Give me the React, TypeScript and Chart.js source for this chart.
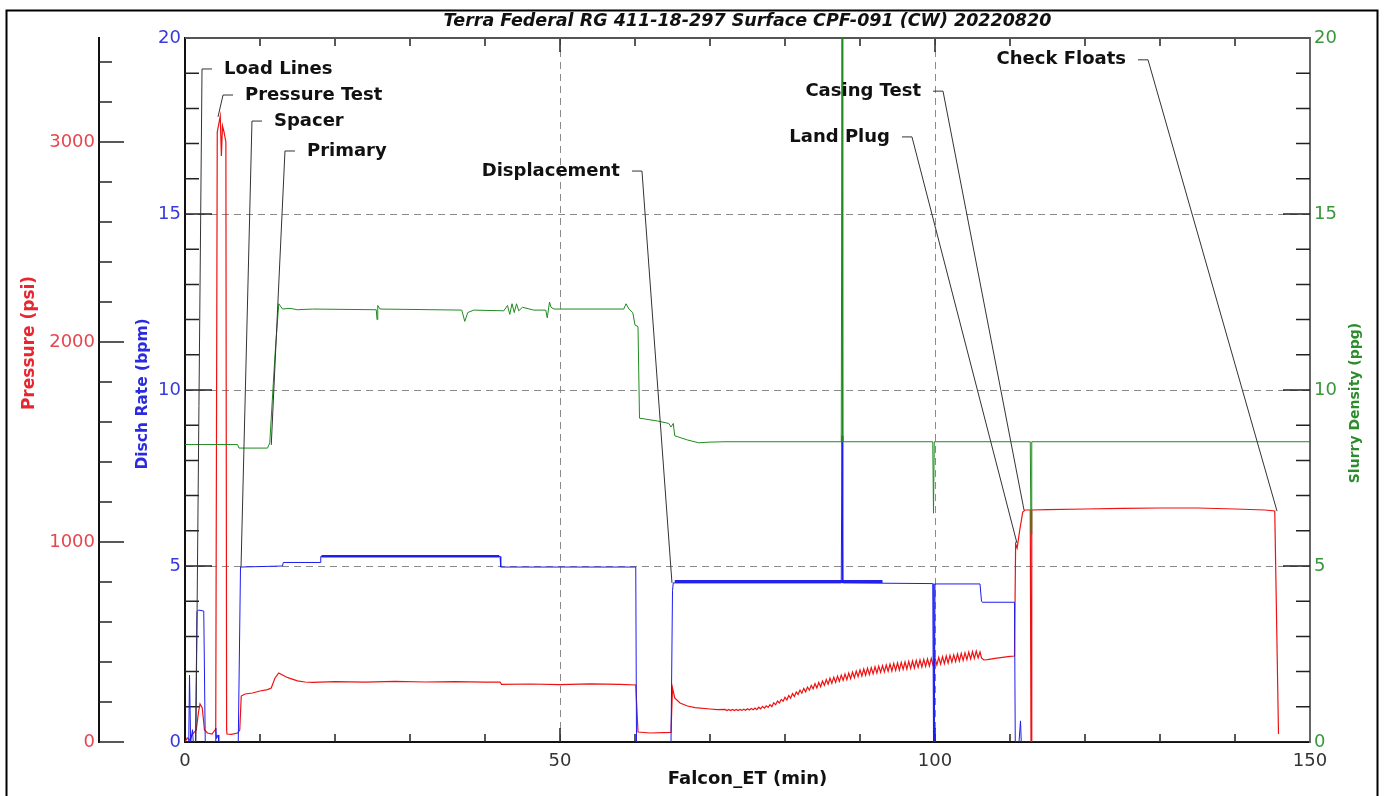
import { useEffect, useRef } from "react"
import { Chart, registerables } from "chart.js"

Chart.register(...registerables)

// [Falcon_ET (min), pressure (psi)] before the displacement ramp
const pressureStart: [number, number][] = [
    [0, 0], [0.3, 20], [0.6, 10], [1.0, 40], [1.5, 60], [1.8, 150], [2.0, 190], [2.3, 170], [2.6, 60],
    [3.0, 45], [3.6, 40], [4.0, 60], [4.1, 100], [4.3, 3050], [4.7, 3130], [4.85, 2930], [5.0, 3080],
    [5.2, 3050], [5.45, 3000], [5.55, 60], [5.6, 40], [6.2, 38], [7.0, 45], [7.3, 60], [7.5, 230],
    [8.0, 240], [9.0, 245], [10.0, 255], [11.0, 262], [11.5, 270], [12.0, 320], [12.5, 345], [13.0, 335],
    [13.5, 325], [14.0, 318], [14.5, 312], [15.0, 306], [16.0, 300], [17.0, 298], [20.0, 302], [24.0, 299],
    [28.0, 303], [32.0, 300], [36.0, 302], [40.0, 299], [42.0, 300], [42.2, 288], [46.0, 290], [50.0, 287],
    [54.0, 291], [58.0, 288], [60.1, 285], [60.4, 50], [62.0, 45], [64.8, 48], [65.0, 270], [65.3, 220],
    [66.0, 195], [67.0, 180], [68.0, 172], [70.0, 165], [71.0, 162],
]

// pressure samples every 0.25 min from 72 to 106 min (pump-stroke ripple)
const pressureRippleStart = 72
const pressureRippleStep = 0.25
const pressureRipple = [
    163, 157, 163, 157, 163, 157, 163, 157,
    163, 158, 164, 159, 166, 160, 167, 161,
    170, 162, 174, 166, 178, 169, 181, 173,
    187, 177, 196, 186, 205, 195, 213, 204,
    224, 210, 233, 219, 242, 228, 250, 237,
    260, 244, 268, 251, 275, 259, 283, 266,
    292, 270, 298, 276, 305, 283, 312, 289,
    319, 293, 324, 298, 329, 303, 334, 308,
    340, 312, 345, 317, 350, 322, 355, 327,
    361, 330, 365, 334, 369, 337, 372, 341,
    376, 345, 379, 348, 382, 351, 385, 354,
    390, 355, 393, 358, 395, 360, 398, 363,
    400, 365, 403, 368, 405, 370, 408, 373,
    410, 375, 413, 378, 415, 380, 418, 383,
    420, 386, 423, 389, 427, 392, 430, 395,
    433, 399, 436, 402, 440, 405, 443, 408,
    446, 412, 449, 415, 452, 418, 455, 421,
    450,
]

const pressureEnd: [number, number][] = [
    [106.2, 420], [106.5, 410], [107.0, 412], [108.0, 418], [109.0, 423], [110.0, 428], [110.6, 430],
    [110.75, 990], [110.95, 970], [111.3, 1060], [111.7, 1150], [112.0, 1160], [112.7, 1160], [112.8, 0],
    [112.9, 1160], [115.0, 1162], [120.0, 1165], [125.0, 1168], [130.0, 1170], [135.0, 1170], [140.0, 1165],
    [144.0, 1160], [145.3, 1155], [145.8, 40],
]

// [min, bpm]
const dischRate: [number, number][] = [
    [0, 0], [0.5, 0], [0.6, 1.9], [0.75, 0], [1.0, 0.35], [1.1, 0], [1.4, 0], [1.6, 3.7], [1.8, 3.75],
    [2.5, 3.72], [2.7, 0], [4.0, 0], [4.1, 0.4], [4.2, 0.1], [4.4, 0.2], [4.5, 0], [7.1, 0], [7.4, 4.97],
    [13.0, 5.0], [13.1, 5.1], [18.0, 5.1], [18.1, 5.27], [42.0, 5.27], [42.1, 4.97], [60.1, 4.97],
    [60.2, 0], [64.8, 0], [65.0, 4.3], [65.1, 4.52], [87.5, 4.52], [87.6, 8.7], [87.7, 4.52], [99.7, 4.5],
    [99.8, 0], [99.85, 4.5], [99.9, 0], [100.0, 4.49], [106.0, 4.49], [106.2, 4.0], [106.3, 3.97],
    [110.6, 3.97], [110.7, 0], [111.2, 0], [111.4, 0.6], [111.5, 0], [150, 0],
]

// noisy stretches of the rate trace
const dischRateNoisyA: [number, number][] = [[18.2, 5.28], [41.9, 5.28]]
const dischRateNoisyB: [number, number][] = [[65.3, 4.56], [93.0, 4.56]]

// [min, ppg]
const slurryDensity: [number, number][] = [
    [0, 8.45], [7.0, 8.45], [7.2, 8.35], [11.0, 8.35], [11.3, 8.5], [12.0, 11.0], [12.5, 12.45],
    [13.0, 12.3], [14.0, 12.32], [15.0, 12.28], [17.0, 12.3], [25.5, 12.28], [25.6, 12.0], [25.7, 12.4],
    [26.0, 12.3], [36.9, 12.27], [37.3, 11.95], [37.7, 12.2], [38.5, 12.27], [42.5, 12.25], [43.0, 12.4],
    [43.3, 12.15], [43.6, 12.45], [43.9, 12.2], [44.2, 12.45], [44.5, 12.25], [45.0, 12.35], [46.5, 12.27],
    [48.1, 12.27], [48.3, 12.05], [48.6, 12.5], [48.8, 12.35], [49.2, 12.3], [58.5, 12.3], [58.8, 12.45],
    [59.2, 12.3], [59.7, 12.2], [60.0, 11.85], [60.4, 11.8], [60.6, 9.2], [63.0, 9.12], [64.5, 9.05],
    [64.8, 8.95], [65.1, 9.05], [65.3, 8.7], [66.0, 8.65], [67.0, 8.58], [68.5, 8.5], [70.0, 8.52],
    [72.0, 8.53], [87.5, 8.53], [87.6, 20], [87.7, 8.53], [99.7, 8.53], [99.8, 6.5], [99.9, 8.53],
    [112.7, 8.53], [112.8, 5.9], [112.9, 8.53], [150, 8.53],
]

// events: name, time of event and level on the rate scale that the leader points at
const eventNames = ["Load Lines", "Pressure Test", "Spacer", "Primary", "Displacement", "Land Plug", "Casing Test", "Check Floats"]
const eventTime = [1.45, 4.4, 7.47, 11.5, 64.93, 110.93, 111.87, 145.6]
const eventLevel = [0, 17.76, 4.97, 8.44, 4.52, 5.65, 6.59, 6.56]

// where each label's leader bends (time, rate level) and which side the text sits on
const labelTime = [2.27, 5.07, 8.93, 13.33, 60.93, 96.93, 101.07, 128.4]
const labelLevel = [19.12, 18.38, 17.64, 16.79, 16.22, 17.19, 18.49, 19.38]
const labelSide = [1, 1, 1, 1, -1, -1, -1, -1]

const FONT = "'DejaVu Sans', sans-serif"

const toXY = (pts: [number, number][]) => pts.map(([x, y]) => ({ x, y }))

function pressureSeries() {
    const ripple = pressureRipple.map((y, i) => ({ x: pressureRippleStart + i * pressureRippleStep, y }))
    return [...toXY(pressureStart), ...ripple, ...toXY(pressureEnd)]
}

const decorPlugin = {
    id: "decor",
    beforeDatasetsDraw(chart: any) {
        const { ctx, chartArea, scales } = chart
        const { left, right, top, bottom } = chartArea
        ctx.save()
        ctx.strokeStyle = "#222"
        ctx.lineWidth = 1.5
        ctx.beginPath()
        for (const t of scales.x.ticks) {
            const v = t.value
            if (v <= 0 || v >= 150) continue
            const px = scales.x.getPixelForValue(v)
            const len = v % 50 === 0 ? 14 : 8
            ctx.moveTo(px, bottom)
            ctx.lineTo(px, bottom - len)
            ctx.moveTo(px, top)
            ctx.lineTo(px, top + len)
        }
        for (const t of scales.rate.ticks) {
            const v = t.value
            if (v <= 0 || v >= 20) continue
            const py = scales.rate.getPixelForValue(v)
            const len = v % 5 === 0 ? 27 : 14
            ctx.moveTo(left, py)
            ctx.lineTo(left + len, py)
        }
        for (const t of scales.density.ticks) {
            const v = t.value
            if (v <= 0 || v >= 20) continue
            const py = scales.density.getPixelForValue(v)
            const len = v % 5 === 0 ? 27 : 14
            ctx.moveTo(right, py)
            ctx.lineTo(right - len, py)
        }
        const px0 = scales.pressure.right
        for (const t of scales.pressure.ticks) {
            const v = t.value
            if (v % 200 !== 0) continue
            const py = scales.pressure.getPixelForValue(v)
            const len = v % 1000 === 0 ? 25 : 13
            ctx.moveTo(px0, py)
            ctx.lineTo(px0 + len, py)
        }
        ctx.stroke()

        ctx.strokeStyle = "#555"
        ctx.lineWidth = 2
        ctx.beginPath()
        ctx.moveTo(left, top)
        ctx.lineTo(right, top)
        ctx.stroke()
        ctx.restore()
    },
    afterDatasetsDraw(chart: any) {
        const { ctx, scales } = chart
        ctx.save()
        ctx.font = `bold 18px ${FONT}`
        ctx.textBaseline = "middle"
        eventNames.forEach((name, i) => {
            const cx = scales.x.getPixelForValue(labelTime[i])
            const cy = scales.rate.getPixelForValue(labelLevel[i])
            const ex = scales.x.getPixelForValue(eventTime[i])
            const ey = scales.rate.getPixelForValue(eventLevel[i])
            const dir = labelSide[i]
            ctx.strokeStyle = "#333"
            ctx.lineWidth = 1
            ctx.beginPath()
            ctx.moveTo(ex, ey)
            ctx.lineTo(cx, cy)
            ctx.lineTo(cx + dir * 10, cy)
            ctx.stroke()
            ctx.fillStyle = "#111"
            ctx.textAlign = dir > 0 ? "left" : "right"
            ctx.fillText(name, cx + dir * 22, cy)
        })
        ctx.restore()
    },
    afterDraw(chart: any) {
        const { ctx, chartArea } = chart
        const mid = (chartArea.left + chartArea.right) / 2
        ctx.save()
        ctx.strokeStyle = "#000"
        ctx.lineWidth = 2
        ctx.strokeRect(6.5, 10.5, 1371, 800)

        ctx.fillStyle = "#111"
        ctx.textAlign = "center"
        ctx.textBaseline = "middle"
        ctx.font = `italic bold 17.5px ${FONT}`
        ctx.fillText("Terra Federal RG 411-18-297 Surface CPF-091 (CW) 20220820", mid, 21)
        ctx.font = `bold 18px ${FONT}`
        ctx.fillText("Falcon_ET (min)", mid, 779)

        const vertical = (text: string, x: number, y: number, size: number, color: string) => {
            ctx.save()
            ctx.translate(x, y)
            ctx.rotate(-Math.PI / 2)
            ctx.font = `bold ${size}px ${FONT}`
            ctx.fillStyle = color
            ctx.fillText(text, 0, 0)
            ctx.restore()
        }
        vertical("Pressure (psi)", 30, 343, 17, "#e8262f")
        vertical("Disch Rate (bpm)", 143, 394, 15.5, "#2a2ae0")
        vertical("Slurry Density (ppg)", 1355, 403, 14, "#2c8c2c")
        ctx.restore()
    },
}

export default function App() {
    const chartRef = useRef<HTMLCanvasElement>(null)

    useEffect(() => {
        if (!chartRef.current) return
        const ctx = chartRef.current.getContext("2d")
        if (!ctx) return

        const line = { pointRadius: 0, borderWidth: 1, tension: 0, fill: false }
        const tickFont = { family: FONT, size: 18 }

        const chart = new Chart(ctx, {
            type: "line",
            data: {
                datasets: [
                    { ...line, label: "Slurry Density", data: toXY(slurryDensity), borderColor: "#1f8a1f", yAxisID: "density" },
                    { ...line, label: "Disch Rate", data: toXY(dischRate), borderColor: "#1c1cf0", yAxisID: "rate" },
                    { ...line, label: "Disch Rate noise A", data: toXY(dischRateNoisyA), borderColor: "#2424e8", borderWidth: 2.5, yAxisID: "rate" },
                    { ...line, label: "Disch Rate noise B", data: toXY(dischRateNoisyB), borderColor: "#2424e8", borderWidth: 3, yAxisID: "rate" },
                    { ...line, label: "Pressure", data: pressureSeries(), borderColor: "#f01010", borderWidth: 1.2, yAxisID: "pressure" },
                ],
            },
            options: {
                responsive: false,
                maintainAspectRatio: false,
                animation: false,
                events: [],
                layout: { padding: { top: 38, left: 0, right: 0, bottom: 0 } },
                plugins: { legend: { display: false }, tooltip: { enabled: false }, title: { display: false } },
                scales: {
                    x: {
                        type: "linear",
                        position: "bottom",
                        min: 0,
                        max: 150,
                        afterFit: (s: any) => { s.height = 54 },
                        ticks: {
                            stepSize: 10,
                            autoSkip: false,
                            maxRotation: 0,
                            padding: 9,
                            color: "#333",
                            font: tickFont,
                            callback: (v: any) => (v % 50 === 0 ? String(v) : ""),
                        },
                        grid: {
                            drawTicks: false,
                            lineWidth: 1,
                            color: (c: any) => (c.tick && (c.tick.value === 50 || c.tick.value === 100) ? "#8a8a8a" : "transparent"),
                        },
                        border: { display: true, color: "#111", width: 2, dash: [7, 5] },
                    },
                    pressure: {
                        type: "linear",
                        position: "left",
                        weight: 2,
                        min: 0,
                        max: 3520,
                        afterFit: (s: any) => { s.width = 99 },
                        ticks: {
                            stepSize: 200,
                            autoSkip: false,
                            padding: 4,
                            color: "#e5474f",
                            font: tickFont,
                            callback: (v: any) => (v % 1000 === 0 ? String(v) : ""),
                        },
                        grid: { display: false, drawTicks: false },
                        border: { display: true, color: "#111", width: 2 },
                    },
                    rate: {
                        type: "linear",
                        position: "left",
                        weight: 1,
                        min: 0,
                        max: 20,
                        afterFit: (s: any) => { s.width = 86 },
                        ticks: {
                            stepSize: 1,
                            autoSkip: false,
                            padding: 4,
                            color: "#3a3adc",
                            font: tickFont,
                            callback: (v: any) => (v % 5 === 0 ? String(v) : ""),
                        },
                        grid: {
                            drawTicks: false,
                            lineWidth: 1,
                            color: (c: any) => (c.tick && c.tick.value % 5 === 0 && c.tick.value > 0 && c.tick.value < 20 ? "#8a8a8a" : "transparent"),
                        },
                        border: { display: true, color: "#111", width: 2, dash: [7, 5] },
                    },
                    density: {
                        type: "linear",
                        position: "right",
                        min: 0,
                        max: 20,
                        afterFit: (s: any) => { s.width = 75 },
                        ticks: {
                            stepSize: 1,
                            autoSkip: false,
                            padding: 4,
                            color: "#3c963c",
                            font: tickFont,
                            callback: (v: any) => (v % 5 === 0 ? String(v) : ""),
                        },
                        grid: { display: false, drawTicks: false },
                        border: { display: true, color: "#666", width: 2 },
                    },
                },
            },
            plugins: [decorPlugin],
        } as any)

        return () => {
            chart.destroy()
        }
    }, [])

    return (
        <div style={{ position: "fixed", left: 0, top: 0, width: 1385, height: 796, background: "#fff" }}>
            <canvas ref={chartRef} width={1385} height={796} style={{ display: "block", width: 1385, height: 796 }} />
        </div>
    )
}
